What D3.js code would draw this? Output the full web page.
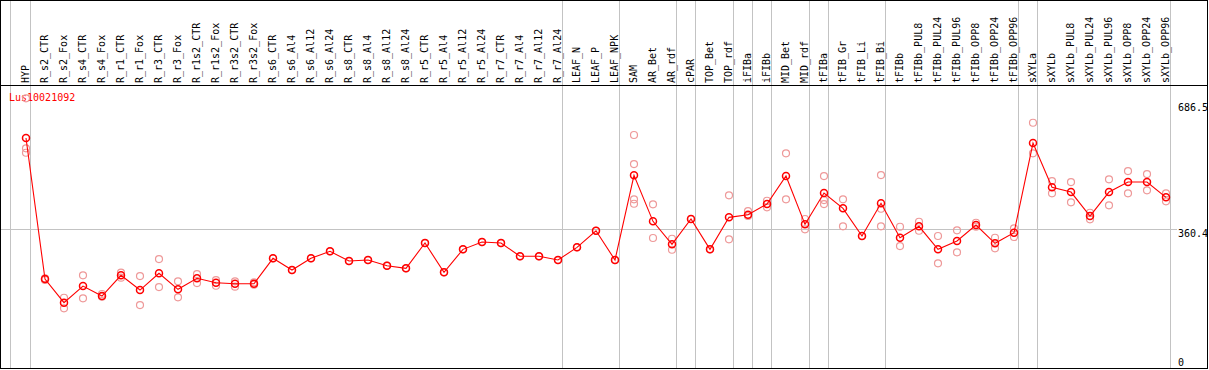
<!DOCTYPE html>
<html>
<head>
  <title>Lus10021092</title>
  <script src="https://cdn.jsdelivr.net/npm/d3@7"></script>
  <style>
    body { margin: 0; background: #fff; }
    text { font-family: "DejaVu Sans Mono", monospace; font-size: 10px; }
  </style>
</head>
<body>
  <svg width="1209" height="370" id="mainsvg"></svg>
  <script>
    const samples = ['HYP', 'R_s2_CTR', 'R_s2_Fox', 'R_s4_CTR', 'R_s4_Fox', 'R_r1_CTR', 'R_r1_Fox',
      'R_r3_CTR', 'R_r3_Fox', 'R_r1s2_CTR', 'R_r1s2_Fox', 'R_r3s2_CTR', 'R_r3s2_Fox',
      'R_s6_CTR', 'R_s6_Al4', 'R_s6_Al12', 'R_s6_Al24', 'R_s8_CTR', 'R_s8_Al4', 'R_s8_Al12', 'R_s8_Al24',
      'R_r5_CTR', 'R_r5_Al4', 'R_r5_Al12', 'R_r5_Al24', 'R_r7_CTR', 'R_r7_Al4', 'R_r7_Al12', 'R_r7_Al24',
      'LEAF_N', 'LEAF_P', 'LEAF_NPK', 'SAM', 'AR_Bet', 'AR_rdf', 'cPAR', 'TOP_Bet', 'TOP_rdf',
      'iFIBa', 'iFIBb', 'MID_Bet', 'MID_rdf', 'tFIBa', 'tFIB_Gr', 'tFIB_Li', 'tFIB_Bi', 'tFIBb',
      'tFIBb_PUL8', 'tFIBb_PUL24', 'tFIBb_PUL96', 'tFIBb_OPP8', 'tFIBb_OPP24', 'tFIBb_OPP96',
      'sXYLa', 'sXYLb', 'sXYLb_PUL8', 'sXYLb_PUL24', 'sXYLb_PUL96', 'sXYLb_OPP8', 'sXYLb_OPP24', 'sXYLb_OPP96'];

    // mean expression per sample
    const means = [586.5, 234, 175, 216.6, 191.7, 243.4, 206.6, 248.4, 208.4, 235.9, 224.9, 222.4, 222.4,
      285.9, 256.6, 285.9, 303.3, 279.1, 281.6, 267.4, 260.9,
      324.1, 250.9, 308.3, 326.6, 324.1, 290.9, 290.9, 281.6,
      313.3, 354.8, 281.6, 493.3, 378.3, 320.8, 384.1, 308.3, 388.3,
      394.8, 421.5, 491.5, 370.8, 449, 410.8, 341.6, 423.3, 337.3,
      365.8, 308.3, 329.1, 369, 323.3, 349.8,
      574, 463.3, 451.5, 391.6, 451.5, 476.5, 476.5, 438.3];

    // replicate values per sample
    const replicates = [[685.7, 560.7, 549.7], [236, 232], [187.4, 161], [243.4, 186], [196.7, 190],
      [250, 237.4], [241.6, 169], [284, 214], [228.4, 188.4], [246.6, 224], [231.6, 217.4],
      [228.4, 215], [225.9, 219.9],
      [285.9], [256.6], [285.9], [303.3], [279.1], [281.6], [267.4], [260.9],
      [324.1], [250.9], [308.3], [326.6], [324.1], [290.9], [290.9], [281.6],
      [313.3], [354.8], [281.6], [594, 521.5, 433.3, 422.3], [420.8, 336.6], [334.8, 307.3],
      [384.1], [308.3], [443.3, 333.3],
      [404, 391.6], [429.8, 413.3], [548.2, 433.3], [384.1, 358.3], [491.5, 431.5, 421.5],
      [433.3, 365.8], [341.6], [494, 409.8, 365.8], [364.8, 316.6],
      [377.3, 354.8], [341.6, 273.4], [355.8, 300.8], [374.8, 364.8], [337.3, 310.8], [360.8, 339.1],
      [624.7, 548.2], [479, 448.3], [476.5, 425.8], [399.8, 383.3], [483.3, 418.3],
      [504, 448.3], [496.5, 455.8], [448.3, 428.3]];

    // group boundaries drawn after these samples
    const groupEnds = ['HYP', 'R_r7_Al24', 'LEAF_NPK', 'AR_rdf', 'cPAR', 'TOP_rdf', 'iFIBa', 'iFIBb',
      'MID_rdf', 'tFIBa', 'tFIB_Bi', 'tFIBb_OPP96', 'sXYLa', 'sXYLb_OPP96'];

    const yTicks = [686.5, 360.4, 0];
    const midLine = 360.4;
    const geneName = 'Lus10021092';

    const svg = d3.select('svg');
    const width = +svg.attr('width');
    const height = +svg.attr('height');
    const headerBottom = 85.5;

    const x = d3.scalePoint().domain(samples).range([26, 1166]);
    const y = d3.scaleLinear().domain([360.4, 686.5]).range([228.5, 98]);

    const grey = '#c3c3c3';

    // separators
    const sepX = [x(samples[0]) - 15.5].concat(groupEnds.map(s => x(s) + 4.5));
    svg.append('g').selectAll('line').data(sepX).join('line')
      .attr('x1', d => d).attr('x2', d => d)
      .attr('y1', 0).attr('y2', height - 1.5)
      .attr('stroke', grey).attr('stroke-width', 1);

    // mid grid line
    svg.append('line')
      .attr('x1', 1).attr('x2', 1177)
      .attr('y1', Math.round(y(midLine)) + 0.5).attr('y2', Math.round(y(midLine)) + 0.5)
      .attr('stroke', grey);

    // frame
    svg.append('rect')
      .attr('x', 0.5).attr('y', 0.5)
      .attr('width', width - 2).attr('height', height - 2)
      .attr('fill', 'none').attr('stroke', '#000');
    svg.append('line')
      .attr('x1', 0).attr('x2', width - 1)
      .attr('y1', headerBottom).attr('y2', headerBottom)
      .attr('stroke', '#000');

    // sample labels
    svg.append('g').selectAll('text').data(samples).join('text')
      .attr('transform', d => `translate(${x(d) + 2.5}, 83) rotate(-90)`)
      .attr('fill', '#000')
      .text(d => d);

    // y labels
    svg.append('g').selectAll('text').data(yTicks).join('text')
      .attr('x', 1178)
      .attr('y', d => Math.min(Math.max(y(d) + 8, 110.5), 366))
      .attr('fill', '#000')
      .text(d => d);

    svg.append('text')
      .attr('x', 9).attr('y', 100.5)
      .attr('fill', '#ff0000')
      .text(geneName);

    // replicates
    const repPts = [];
    replicates.forEach((r, i) => r.forEach(v => repPts.push({s: samples[i], v: v})));
    svg.append('g').selectAll('circle').data(repPts).join('circle')
      .attr('cx', d => x(d.s)).attr('cy', d => y(d.v)).attr('r', 3.5)
      .attr('fill', 'none').attr('stroke', '#ee9999').attr('stroke-width', 1.2);

    // mean line
    const line = d3.line().x((d, i) => x(samples[i])).y(d => y(d));
    svg.append('path')
      .attr('d', line(means))
      .attr('fill', 'none').attr('stroke', '#ff0000').attr('stroke-width', 1.1);

    svg.append('g').selectAll('circle').data(means).join('circle')
      .attr('cx', (d, i) => x(samples[i])).attr('cy', d => y(d)).attr('r', 3.5)
      .attr('fill', 'none').attr('stroke', '#ff0000').attr('stroke-width', 1.5);
  </script>
</body>
</html>
